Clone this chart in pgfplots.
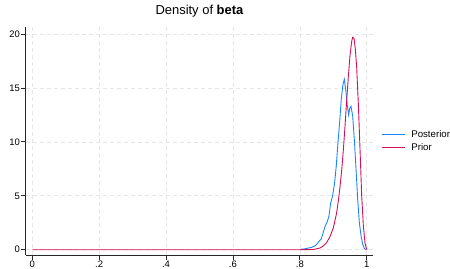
\documentclass[border=0pt]{standalone}
\usepackage{fontspec}
\setmainfont{Liberation Sans}
\usepackage{pgfplots}
\pgfplotsset{compat=1.18}
\definecolor{stcblue}{RGB}{26,133,255}
\definecolor{stcred}{RGB}{212,17,89}
\definecolor{gridc}{RGB}{230,230,230}
\definecolor{axc}{RGB}{40,40,40}
\begin{document}
\begin{tikzpicture}
\path[use as bounding box] (0,0) rectangle (450bp,269bp);
\begin{axis}[
  at={(25.7bp,14bp)}, anchor=south west,
  scale only axis, width=347.6bp, height=228.3bp,
  xmin=-0.0197, xmax=1.0197, ymin=-0.49, ymax=20.68,
  axis lines=left, axis line style={-, color=axc, line width=0.8bp},
  xtick={0,0.2,0.4,0.6,0.8,1}, xticklabels={0,.2,.4,.6,.8,1},
  ytick={0,5,10,15,20}, yticklabels={0,5,10,15,20},
  tick align=outside, major tick length=4.5bp,
  tick style={color=axc, line width=0.8bp},
  tick label style={font=\fontsize{9.5}{11}\selectfont, text=black},
  yticklabel style={inner sep=1.2bp},
  xticklabel style={inner sep=1.5bp},
  grid=major, grid style={color=gridc, line width=0.6bp, dash pattern=on 4bp off 3bp},
  title={Density of \textbf{beta}},
  title style={at={(0.5,1)}, anchor=base, yshift=6.5bp, font=\fontsize{13}{15}\selectfont},
  legend style={at={(1.024,0.498)}, anchor=west, draw=none, fill=none, inner sep=0pt,
    font=\fontsize{9.7}{11}\selectfont, row sep=4bp, column sep=6bp,
    nodes={inner sep=0pt, text height=7bp, text depth=2bp}},
  legend cell align=left,
  legend image code/.code={\draw[#1] (0bp,0bp) -- (22.6bp,0bp);},
]
\addplot[color=stcblue, line width=0.9bp] coordinates {
(0.800,0.00) (0.805,0.05) (0.815,0.08) (0.825,0.15) (0.835,0.22) (0.845,0.35)
(0.852,0.55) (0.858,0.80) (0.864,1.00) (0.870,1.6) (0.876,2.2) (0.882,2.6)
(0.887,3.1) (0.892,4.3) (0.898,5.0) (0.904,6.2) (0.909,7.8) (0.914,9.9)
(0.919,11.8) (0.924,14.0) (0.929,15.3) (0.933,15.8) (0.937,14.9) (0.942,13.4)
(0.946,12.5) (0.949,13.1) (0.953,13.3) (0.958,12.4) (0.963,10.2) (0.968,7.5)
(0.973,4.7) (0.978,2.5) (0.983,1.3) (0.988,0.5) (0.993,0.12) (0.998,0.0)
};
\addlegendentry{Posterior}
\addplot[color=stcred, line width=0.9bp] coordinates {
(0.00,0) (0.80,0) (0.84,0.02) (0.86,0.15) (0.87,0.35) (0.88,0.65) (0.89,1.2)
(0.90,2.0) (0.91,3.4) (0.915,4.5) (0.92,5.8) (0.925,7.3) (0.93,9.2) (0.935,11.4)
(0.94,13.8) (0.945,16.0) (0.95,18.0) (0.955,19.3) (0.958,19.7) (0.962,19.6)
(0.966,18.6) (0.97,16.9) (0.975,13.5) (0.98,9.3) (0.985,5.0) (0.99,2.2)
(0.995,0.6) (1.0,0)
};
\addlegendentry{Prior}
\end{axis}
\end{tikzpicture}
\end{document}
